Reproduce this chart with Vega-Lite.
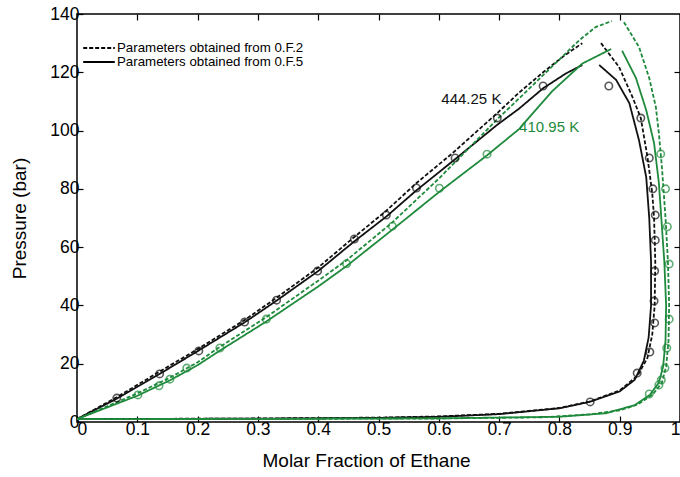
{
  "$schema": "https://vega.github.io/schema/vega-lite/v6.json",
  "width": 603,
  "height": 408,
  "autosize": {"type": "none"},
  "padding": {"left": 77, "top": 14, "right": 0, "bottom": 55},
  "background": "white",
  "config": {
    "view": {"stroke": "black", "strokeWidth": 1.5},
    "font": "Liberation Sans",
    "axis": {
      "domain": false,
      "grid": false,
      "tickSize": -6,
      "tickColor": "black",
      "tickWidth": 1.2,
      "labelColor": "black",
      "labelFont": "Liberation Sans",
      "labelFontSize": 17.5,
      "titleFont": "Liberation Sans",
      "titleFontSize": 19,
      "titleFontWeight": "normal",
      "titleColor": "black"
    },
    "axisTop": {"labels": false},
    "axisRight": {"labels": false}
  },
  "resolve": {"axis": {"x": "independent", "y": "independent"}},
  "datasets": {
    "curves": [
      {"s":"B444_2","T":"444.25 K","m":"Parameters obtained from 0.F.2","i":0,"x":0,"p":1},
      {"s":"B444_2","T":"444.25 K","m":"Parameters obtained from 0.F.2","i":1,"x":0.066,"p":8.5},
      {"s":"B444_2","T":"444.25 K","m":"Parameters obtained from 0.F.2","i":2,"x":0.137,"p":17.3},
      {"s":"B444_2","T":"444.25 K","m":"Parameters obtained from 0.F.2","i":3,"x":0.2,"p":25},
      {"s":"B444_2","T":"444.25 K","m":"Parameters obtained from 0.F.2","i":4,"x":0.278,"p":35},
      {"s":"B444_2","T":"444.25 K","m":"Parameters obtained from 0.F.2","i":5,"x":0.33,"p":42.5},
      {"s":"B444_2","T":"444.25 K","m":"Parameters obtained from 0.F.2","i":6,"x":0.4,"p":53},
      {"s":"B444_2","T":"444.25 K","m":"Parameters obtained from 0.F.2","i":7,"x":0.46,"p":63.5},
      {"s":"B444_2","T":"444.25 K","m":"Parameters obtained from 0.F.2","i":8,"x":0.513,"p":72.5},
      {"s":"B444_2","T":"444.25 K","m":"Parameters obtained from 0.F.2","i":9,"x":0.563,"p":82},
      {"s":"B444_2","T":"444.25 K","m":"Parameters obtained from 0.F.2","i":10,"x":0.623,"p":92.3},
      {"s":"B444_2","T":"444.25 K","m":"Parameters obtained from 0.F.2","i":11,"x":0.697,"p":106},
      {"s":"B444_2","T":"444.25 K","m":"Parameters obtained from 0.F.2","i":12,"x":0.733,"p":113},
      {"s":"B444_2","T":"444.25 K","m":"Parameters obtained from 0.F.2","i":13,"x":0.773,"p":120},
      {"s":"B444_2","T":"444.25 K","m":"Parameters obtained from 0.F.2","i":14,"x":0.81,"p":126},
      {"s":"B444_2","T":"444.25 K","m":"Parameters obtained from 0.F.2","i":15,"x":0.838,"p":130},

      {"s":"D444_2","T":"444.25 K","m":"Parameters obtained from 0.F.2","i":0,"x":0.869,"p":130},
      {"s":"D444_2","T":"444.25 K","m":"Parameters obtained from 0.F.2","i":1,"x":0.899,"p":121.8},
      {"s":"D444_2","T":"444.25 K","m":"Parameters obtained from 0.F.2","i":2,"x":0.921,"p":111.6},
      {"s":"D444_2","T":"444.25 K","m":"Parameters obtained from 0.F.2","i":3,"x":0.935,"p":104.3},
      {"s":"D444_2","T":"444.25 K","m":"Parameters obtained from 0.F.2","i":4,"x":0.946,"p":91},
      {"s":"D444_2","T":"444.25 K","m":"Parameters obtained from 0.F.2","i":5,"x":0.954,"p":78.5},
      {"s":"D444_2","T":"444.25 K","m":"Parameters obtained from 0.F.2","i":6,"x":0.957,"p":70},
      {"s":"D444_2","T":"444.25 K","m":"Parameters obtained from 0.F.2","i":7,"x":0.959,"p":55},
      {"s":"D444_2","T":"444.25 K","m":"Parameters obtained from 0.F.2","i":8,"x":0.958,"p":40},
      {"s":"D444_2","T":"444.25 K","m":"Parameters obtained from 0.F.2","i":9,"x":0.954,"p":30},
      {"s":"D444_2","T":"444.25 K","m":"Parameters obtained from 0.F.2","i":10,"x":0.946,"p":22},
      {"s":"D444_2","T":"444.25 K","m":"Parameters obtained from 0.F.2","i":11,"x":0.93,"p":16},
      {"s":"D444_2","T":"444.25 K","m":"Parameters obtained from 0.F.2","i":12,"x":0.9,"p":10.8},
      {"s":"D444_2","T":"444.25 K","m":"Parameters obtained from 0.F.2","i":13,"x":0.85,"p":7},
      {"s":"D444_2","T":"444.25 K","m":"Parameters obtained from 0.F.2","i":14,"x":0.8,"p":4.8},
      {"s":"D444_2","T":"444.25 K","m":"Parameters obtained from 0.F.2","i":15,"x":0.7,"p":2.8},
      {"s":"D444_2","T":"444.25 K","m":"Parameters obtained from 0.F.2","i":16,"x":0.6,"p":1.9},
      {"s":"D444_2","T":"444.25 K","m":"Parameters obtained from 0.F.2","i":17,"x":0.5,"p":1.5},
      {"s":"D444_2","T":"444.25 K","m":"Parameters obtained from 0.F.2","i":18,"x":0.3,"p":1.2},
      {"s":"D444_2","T":"444.25 K","m":"Parameters obtained from 0.F.2","i":19,"x":0,"p":1},

      {"s":"B444_5","T":"444.25 K","m":"Parameters obtained from 0.F.5","i":0,"x":0,"p":1},
      {"s":"B444_5","T":"444.25 K","m":"Parameters obtained from 0.F.5","i":1,"x":0.066,"p":8},
      {"s":"B444_5","T":"444.25 K","m":"Parameters obtained from 0.F.5","i":2,"x":0.137,"p":16.5},
      {"s":"B444_5","T":"444.25 K","m":"Parameters obtained from 0.F.5","i":3,"x":0.2,"p":24.3},
      {"s":"B444_5","T":"444.25 K","m":"Parameters obtained from 0.F.5","i":4,"x":0.278,"p":34.2},
      {"s":"B444_5","T":"444.25 K","m":"Parameters obtained from 0.F.5","i":5,"x":0.33,"p":41.5},
      {"s":"B444_5","T":"444.25 K","m":"Parameters obtained from 0.F.5","i":6,"x":0.4,"p":51.8},
      {"s":"B444_5","T":"444.25 K","m":"Parameters obtained from 0.F.5","i":7,"x":0.46,"p":62},
      {"s":"B444_5","T":"444.25 K","m":"Parameters obtained from 0.F.5","i":8,"x":0.513,"p":70.5},
      {"s":"B444_5","T":"444.25 K","m":"Parameters obtained from 0.F.5","i":9,"x":0.563,"p":79.5},
      {"s":"B444_5","T":"444.25 K","m":"Parameters obtained from 0.F.5","i":10,"x":0.623,"p":89.5},
      {"s":"B444_5","T":"444.25 K","m":"Parameters obtained from 0.F.5","i":11,"x":0.697,"p":102},
      {"s":"B444_5","T":"444.25 K","m":"Parameters obtained from 0.F.5","i":12,"x":0.733,"p":107.5},
      {"s":"B444_5","T":"444.25 K","m":"Parameters obtained from 0.F.5","i":13,"x":0.773,"p":114.5},
      {"s":"B444_5","T":"444.25 K","m":"Parameters obtained from 0.F.5","i":14,"x":0.81,"p":119.5},
      {"s":"B444_5","T":"444.25 K","m":"Parameters obtained from 0.F.5","i":15,"x":0.838,"p":122.5},

      {"s":"D444_5","T":"444.25 K","m":"Parameters obtained from 0.F.5","i":0,"x":0.866,"p":122.5},
      {"s":"D444_5","T":"444.25 K","m":"Parameters obtained from 0.F.5","i":1,"x":0.894,"p":117.4},
      {"s":"D444_5","T":"444.25 K","m":"Parameters obtained from 0.F.5","i":2,"x":0.916,"p":109.4},
      {"s":"D444_5","T":"444.25 K","m":"Parameters obtained from 0.F.5","i":3,"x":0.932,"p":96.7},
      {"s":"D444_5","T":"444.25 K","m":"Parameters obtained from 0.F.5","i":4,"x":0.944,"p":84},
      {"s":"D444_5","T":"444.25 K","m":"Parameters obtained from 0.F.5","i":5,"x":0.949,"p":70},
      {"s":"D444_5","T":"444.25 K","m":"Parameters obtained from 0.F.5","i":6,"x":0.952,"p":55},
      {"s":"D444_5","T":"444.25 K","m":"Parameters obtained from 0.F.5","i":7,"x":0.952,"p":40},
      {"s":"D444_5","T":"444.25 K","m":"Parameters obtained from 0.F.5","i":8,"x":0.948,"p":29},
      {"s":"D444_5","T":"444.25 K","m":"Parameters obtained from 0.F.5","i":9,"x":0.94,"p":21},
      {"s":"D444_5","T":"444.25 K","m":"Parameters obtained from 0.F.5","i":10,"x":0.925,"p":14.5},
      {"s":"D444_5","T":"444.25 K","m":"Parameters obtained from 0.F.5","i":11,"x":0.9,"p":10.5},
      {"s":"D444_5","T":"444.25 K","m":"Parameters obtained from 0.F.5","i":12,"x":0.85,"p":6.9},
      {"s":"D444_5","T":"444.25 K","m":"Parameters obtained from 0.F.5","i":13,"x":0.8,"p":4.7},
      {"s":"D444_5","T":"444.25 K","m":"Parameters obtained from 0.F.5","i":14,"x":0.7,"p":2.7},
      {"s":"D444_5","T":"444.25 K","m":"Parameters obtained from 0.F.5","i":15,"x":0.6,"p":1.8},
      {"s":"D444_5","T":"444.25 K","m":"Parameters obtained from 0.F.5","i":16,"x":0.5,"p":1.4},
      {"s":"D444_5","T":"444.25 K","m":"Parameters obtained from 0.F.5","i":17,"x":0.3,"p":1.15},
      {"s":"D444_5","T":"444.25 K","m":"Parameters obtained from 0.F.5","i":18,"x":0,"p":1},

      {"s":"B410_2","T":"410.95 K","m":"Parameters obtained from 0.F.2","i":0,"x":0,"p":1},
      {"s":"B410_2","T":"410.95 K","m":"Parameters obtained from 0.F.2","i":1,"x":0.1,"p":9.8},
      {"s":"B410_2","T":"410.95 K","m":"Parameters obtained from 0.F.2","i":2,"x":0.154,"p":15.2},
      {"s":"B410_2","T":"410.95 K","m":"Parameters obtained from 0.F.2","i":3,"x":0.2,"p":20.5},
      {"s":"B410_2","T":"410.95 K","m":"Parameters obtained from 0.F.2","i":4,"x":0.237,"p":25.8},
      {"s":"B410_2","T":"410.95 K","m":"Parameters obtained from 0.F.2","i":5,"x":0.314,"p":36},
      {"s":"B410_2","T":"410.95 K","m":"Parameters obtained from 0.F.2","i":6,"x":0.4,"p":48.5},
      {"s":"B410_2","T":"410.95 K","m":"Parameters obtained from 0.F.2","i":7,"x":0.447,"p":55.5},
      {"s":"B410_2","T":"410.95 K","m":"Parameters obtained from 0.F.2","i":8,"x":0.523,"p":68.5},
      {"s":"B410_2","T":"410.95 K","m":"Parameters obtained from 0.F.2","i":9,"x":0.6,"p":83.5},
      {"s":"B410_2","T":"410.95 K","m":"Parameters obtained from 0.F.2","i":10,"x":0.7,"p":104.5},
      {"s":"B410_2","T":"410.95 K","m":"Parameters obtained from 0.F.2","i":11,"x":0.728,"p":110},
      {"s":"B410_2","T":"410.95 K","m":"Parameters obtained from 0.F.2","i":12,"x":0.788,"p":122},
      {"s":"B410_2","T":"410.95 K","m":"Parameters obtained from 0.F.2","i":13,"x":0.833,"p":131},
      {"s":"B410_2","T":"410.95 K","m":"Parameters obtained from 0.F.2","i":14,"x":0.86,"p":135.5},
      {"s":"B410_2","T":"410.95 K","m":"Parameters obtained from 0.F.2","i":15,"x":0.887,"p":137.6},

      {"s":"D410_2","T":"410.95 K","m":"Parameters obtained from 0.F.2","i":0,"x":0.907,"p":137.2},
      {"s":"D410_2","T":"410.95 K","m":"Parameters obtained from 0.F.2","i":1,"x":0.932,"p":128.7},
      {"s":"D410_2","T":"410.95 K","m":"Parameters obtained from 0.F.2","i":2,"x":0.949,"p":118},
      {"s":"D410_2","T":"410.95 K","m":"Parameters obtained from 0.F.2","i":3,"x":0.96,"p":108},
      {"s":"D410_2","T":"410.95 K","m":"Parameters obtained from 0.F.2","i":4,"x":0.965,"p":99},
      {"s":"D410_2","T":"410.95 K","m":"Parameters obtained from 0.F.2","i":5,"x":0.97,"p":87.5},
      {"s":"D410_2","T":"410.95 K","m":"Parameters obtained from 0.F.2","i":6,"x":0.976,"p":70},
      {"s":"D410_2","T":"410.95 K","m":"Parameters obtained from 0.F.2","i":7,"x":0.98,"p":55},
      {"s":"D410_2","T":"410.95 K","m":"Parameters obtained from 0.F.2","i":8,"x":0.982,"p":40},
      {"s":"D410_2","T":"410.95 K","m":"Parameters obtained from 0.F.2","i":9,"x":0.981,"p":28},
      {"s":"D410_2","T":"410.95 K","m":"Parameters obtained from 0.F.2","i":10,"x":0.977,"p":19},
      {"s":"D410_2","T":"410.95 K","m":"Parameters obtained from 0.F.2","i":11,"x":0.97,"p":13.5},
      {"s":"D410_2","T":"410.95 K","m":"Parameters obtained from 0.F.2","i":12,"x":0.955,"p":9.5},
      {"s":"D410_2","T":"410.95 K","m":"Parameters obtained from 0.F.2","i":13,"x":0.93,"p":6},
      {"s":"D410_2","T":"410.95 K","m":"Parameters obtained from 0.F.2","i":14,"x":0.9,"p":4},
      {"s":"D410_2","T":"410.95 K","m":"Parameters obtained from 0.F.2","i":15,"x":0.85,"p":2.6},
      {"s":"D410_2","T":"410.95 K","m":"Parameters obtained from 0.F.2","i":16,"x":0.77,"p":1.6},
      {"s":"D410_2","T":"410.95 K","m":"Parameters obtained from 0.F.2","i":17,"x":0.6,"p":1.2},
      {"s":"D410_2","T":"410.95 K","m":"Parameters obtained from 0.F.2","i":18,"x":0.3,"p":1.05},
      {"s":"D410_2","T":"410.95 K","m":"Parameters obtained from 0.F.2","i":19,"x":0,"p":1},

      {"s":"B410_5","T":"410.95 K","m":"Parameters obtained from 0.F.5","i":0,"x":0,"p":1},
      {"s":"B410_5","T":"410.95 K","m":"Parameters obtained from 0.F.5","i":1,"x":0.1,"p":9},
      {"s":"B410_5","T":"410.95 K","m":"Parameters obtained from 0.F.5","i":2,"x":0.154,"p":14.3},
      {"s":"B410_5","T":"410.95 K","m":"Parameters obtained from 0.F.5","i":3,"x":0.2,"p":19.5},
      {"s":"B410_5","T":"410.95 K","m":"Parameters obtained from 0.F.5","i":4,"x":0.237,"p":24.5},
      {"s":"B410_5","T":"410.95 K","m":"Parameters obtained from 0.F.5","i":5,"x":0.314,"p":34.5},
      {"s":"B410_5","T":"410.95 K","m":"Parameters obtained from 0.F.5","i":6,"x":0.4,"p":46.5},
      {"s":"B410_5","T":"410.95 K","m":"Parameters obtained from 0.F.5","i":7,"x":0.447,"p":53.5},
      {"s":"B410_5","T":"410.95 K","m":"Parameters obtained from 0.F.5","i":8,"x":0.523,"p":66},
      {"s":"B410_5","T":"410.95 K","m":"Parameters obtained from 0.F.5","i":9,"x":0.601,"p":79},
      {"s":"B410_5","T":"410.95 K","m":"Parameters obtained from 0.F.5","i":10,"x":0.68,"p":91.5},
      {"s":"B410_5","T":"410.95 K","m":"Parameters obtained from 0.F.5","i":11,"x":0.733,"p":100.5},
      {"s":"B410_5","T":"410.95 K","m":"Parameters obtained from 0.F.5","i":12,"x":0.788,"p":113.5},
      {"s":"B410_5","T":"410.95 K","m":"Parameters obtained from 0.F.5","i":13,"x":0.838,"p":123},
      {"s":"B410_5","T":"410.95 K","m":"Parameters obtained from 0.F.5","i":14,"x":0.886,"p":128},

      {"s":"D410_5","T":"410.95 K","m":"Parameters obtained from 0.F.5","i":0,"x":0.904,"p":127.4},
      {"s":"D410_5","T":"410.95 K","m":"Parameters obtained from 0.F.5","i":1,"x":0.927,"p":118},
      {"s":"D410_5","T":"410.95 K","m":"Parameters obtained from 0.F.5","i":2,"x":0.944,"p":107},
      {"s":"D410_5","T":"410.95 K","m":"Parameters obtained from 0.F.5","i":3,"x":0.957,"p":95.7},
      {"s":"D410_5","T":"410.95 K","m":"Parameters obtained from 0.F.5","i":4,"x":0.965,"p":82},
      {"s":"D410_5","T":"410.95 K","m":"Parameters obtained from 0.F.5","i":5,"x":0.969,"p":70},
      {"s":"D410_5","T":"410.95 K","m":"Parameters obtained from 0.F.5","i":6,"x":0.974,"p":55},
      {"s":"D410_5","T":"410.95 K","m":"Parameters obtained from 0.F.5","i":7,"x":0.977,"p":40},
      {"s":"D410_5","T":"410.95 K","m":"Parameters obtained from 0.F.5","i":8,"x":0.976,"p":28},
      {"s":"D410_5","T":"410.95 K","m":"Parameters obtained from 0.F.5","i":9,"x":0.972,"p":19},
      {"s":"D410_5","T":"410.95 K","m":"Parameters obtained from 0.F.5","i":10,"x":0.965,"p":13.5},
      {"s":"D410_5","T":"410.95 K","m":"Parameters obtained from 0.F.5","i":11,"x":0.95,"p":9.3},
      {"s":"D410_5","T":"410.95 K","m":"Parameters obtained from 0.F.5","i":12,"x":0.925,"p":5.8},
      {"s":"D410_5","T":"410.95 K","m":"Parameters obtained from 0.F.5","i":13,"x":0.877,"p":3},
      {"s":"D410_5","T":"410.95 K","m":"Parameters obtained from 0.F.5","i":14,"x":0.8,"p":1.8},
      {"s":"D410_5","T":"410.95 K","m":"Parameters obtained from 0.F.5","i":15,"x":0.6,"p":1.25},
      {"s":"D410_5","T":"410.95 K","m":"Parameters obtained from 0.F.5","i":16,"x":0.3,"p":1.05},
      {"s":"D410_5","T":"410.95 K","m":"Parameters obtained from 0.F.5","i":17,"x":0,"p":1}
    ],
    "obs": [
      {"T":"444.25 K","x":0.066,"p":8.2},
      {"T":"444.25 K","x":0.137,"p":16.5},
      {"T":"444.25 K","x":0.202,"p":24.4},
      {"T":"444.25 K","x":0.278,"p":34.3},
      {"T":"444.25 K","x":0.331,"p":41.8},
      {"T":"444.25 K","x":0.399,"p":51.8},
      {"T":"444.25 K","x":0.46,"p":62.8},
      {"T":"444.25 K","x":0.513,"p":71},
      {"T":"444.25 K","x":0.563,"p":80.3},
      {"T":"444.25 K","x":0.627,"p":90.6},
      {"T":"444.25 K","x":0.697,"p":104.3},
      {"T":"444.25 K","x":0.773,"p":115.3},
      {"T":"444.25 K","x":0.882,"p":115.3},
      {"T":"444.25 K","x":0.935,"p":104.3},
      {"T":"444.25 K","x":0.949,"p":90.6},
      {"T":"444.25 K","x":0.955,"p":80},
      {"T":"444.25 K","x":0.959,"p":71},
      {"T":"444.25 K","x":0.959,"p":62.4},
      {"T":"444.25 K","x":0.958,"p":51.8},
      {"T":"444.25 K","x":0.957,"p":41.5},
      {"T":"444.25 K","x":0.958,"p":34},
      {"T":"444.25 K","x":0.95,"p":24},
      {"T":"444.25 K","x":0.929,"p":16.8},
      {"T":"444.25 K","x":0.851,"p":6.9},
      {"T":"410.95 K","x":0.101,"p":9.3},
      {"T":"410.95 K","x":0.136,"p":12.4},
      {"T":"410.95 K","x":0.154,"p":14.7},
      {"T":"410.95 K","x":0.182,"p":18.5},
      {"T":"410.95 K","x":0.237,"p":25.4},
      {"T":"410.95 K","x":0.314,"p":35.3},
      {"T":"410.95 K","x":0.447,"p":54.3},
      {"T":"410.95 K","x":0.523,"p":67.2},
      {"T":"410.95 K","x":0.601,"p":80.2},
      {"T":"410.95 K","x":0.68,"p":91.9},
      {"T":"410.95 K","x":0.968,"p":92},
      {"T":"410.95 K","x":0.976,"p":80},
      {"T":"410.95 K","x":0.979,"p":67},
      {"T":"410.95 K","x":0.982,"p":54.2},
      {"T":"410.95 K","x":0.982,"p":35.3},
      {"T":"410.95 K","x":0.978,"p":25.4},
      {"T":"410.95 K","x":0.975,"p":18.5},
      {"T":"410.95 K","x":0.969,"p":14.4},
      {"T":"410.95 K","x":0.965,"p":12.7},
      {"T":"410.95 K","x":0.949,"p":9.6}
    ],
    "labels": [
      {"T":"444.25 K","x":0.654,"p":110.8},
      {"T":"410.95 K","x":0.783,"p":101.2}
    ]
  },
  "layer": [
    {
      "data": {"name": "curves"},
      "mark": {"type": "line", "strokeWidth": 1.8, "clip": true},
      "encoding": {
        "x": {"field": "x", "type": "quantitative", "scale": {"domain": [0, 1], "nice": false},
              "axis": {"orient": "bottom", "values": [0,0.1,0.2,0.3,0.4,0.5,0.6,0.7,0.8,0.9,1], "format": "~g", "labelPadding": 4, "title": "Molar Fraction of Ethane", "titlePadding": 14, "titleX": 289}},
        "y": {"field": "p", "type": "quantitative", "scale": {"domain": [0, 140], "nice": false},
              "axis": {"orient": "left", "values": [0,20,40,60,80,100,120,140], "labelPadding": 4, "title": "Pressure (bar)", "titlePadding": 20}},
        "color": {"field": "T", "type": "nominal", "scale": {"domain": ["444.25 K", "410.95 K"], "range": ["#111111", "#1f8a3c"]}, "legend": null},
        "strokeDash": {"field": "m", "type": "nominal",
          "scale": {"domain": ["Parameters obtained from 0.F.2", "Parameters obtained from 0.F.5"], "range": [[4, 2], [1, 0]]},
          "legend": {"title": null, "orient": "none", "legendX": 5, "legendY": 27, "symbolType": "stroke", "symbolStrokeColor": "black", "symbolStrokeWidth": 2, "symbolSize": 1000, "clipHeight": 14, "labelFontSize": 13.3, "labelFont": "Liberation Sans", "labelColor": "black", "labelLimit": 400, "labelOffset": 1, "rowPadding": 0, "padding": 0}},
        "detail": {"field": "s"},
        "order": {"field": "i", "type": "quantitative"}
      }
    },
    {
      "data": {"name": "obs"},
      "mark": {"type": "point", "filled": false, "size": 55, "strokeWidth": 1.6},
      "encoding": {
        "x": {"field": "x", "type": "quantitative", "axis": null},
        "y": {"field": "p", "type": "quantitative", "axis": null},
        "color": {"field": "T", "type": "nominal", "legend": null}
      }
    },
    {
      "data": {"name": "labels"},
      "mark": {"type": "text", "fontSize": 15, "font": "Liberation Sans"},
      "encoding": {
        "x": {"field": "x", "type": "quantitative", "axis": {"orient": "top", "values": [0.1,0.2,0.3,0.4,0.5,0.6,0.7,0.8,0.9], "labels": false, "title": null}},
        "y": {"field": "p", "type": "quantitative", "axis": {"orient": "right", "values": [20,40,60,80,100,120], "labels": false, "title": null}},
        "text": {"field": "T"},
        "color": {"field": "T", "type": "nominal", "legend": null}
      }
    }
  ]
}
